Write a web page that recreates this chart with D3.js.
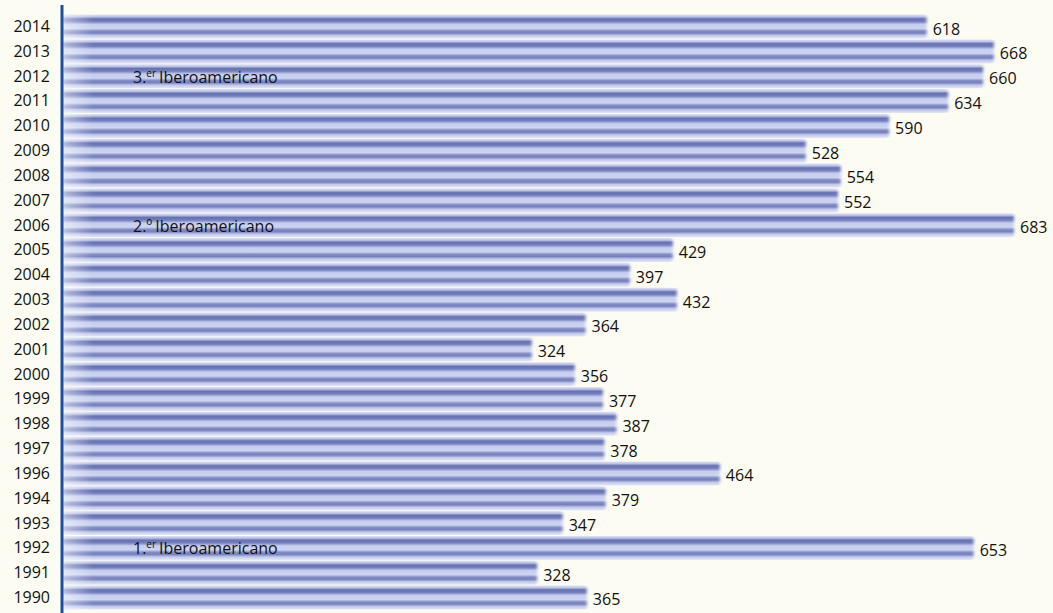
<!DOCTYPE html>
<html>
<head>
<meta charset="utf-8">
<script src="https://cdn.jsdelivr.net/npm/d3@7"></script>
<style>
  html, body { margin: 0; padding: 0; background: #fcfcf2; }
  svg { display: block; }
  text { font-family: "Open Sans", "Noto Sans", sans-serif; fill: #111; }
</style>
</head>
<body>
<svg id="chart" width="1053" height="613"></svg>
<script>
// Years shown top to bottom and the count for each year
const years = ["2014","2013","2012","2011","2010","2009","2008","2007","2006","2005","2004","2003","2002","2001","2000","1999","1998","1997","1996","1994","1993","1992","1991","1990"];
const counts = [618,668,660,634,590,528,554,552,683,429,397,432,364,324,356,377,387,378,464,379,347,653,328,365];
// Congress annotations written inside some bars
const noteYears = ["2012","2006","1992"];
const noteNums = ["3.", "2.", "1."];
const noteSups = ["er", "º", "er"];
const noteWord = "Iberoamericano";

const svg = d3.select("#chart");
const W = 1053, H = 613;
const x0 = 63;

const x = d3.scaleLinear().domain([-25, 683]).range([x0, 1014]);
const y = d3.scaleBand().domain(years).range([14.6, 610.4]).paddingInner(0).paddingOuter(0);

const defs = svg.append("defs");
// Tube-like vertical shading of each bar
const g = defs.append("linearGradient").attr("id", "tube").attr("x1", 0).attr("y1", 0).attr("x2", 0).attr("y2", 1);
[
  [0, "#dfe3f6"], [0.09, "#bcc3e7"], [0.18, "#6571b0"], [0.29, "#7480bd"],
  [0.41, "#c6cdef"], [0.58, "#cdd4f1"], [0.68, "#828cc4"], [0.77, "#7581bb"],
  [0.87, "#c0c7ea"], [1, "#e4e7f7"]
].forEach(([o, c]) => g.append("stop").attr("offset", o).attr("stop-color", c));

// Pale wash fading in from the axis
const fade = defs.append("linearGradient").attr("id", "fade")
  .attr("gradientUnits", "userSpaceOnUse").attr("x1", x0).attr("y1", 0).attr("x2", x0 + 30).attr("y2", 0);
fade.append("stop").attr("offset", 0).attr("stop-color", "#ffffff").attr("stop-opacity", 0.5);
fade.append("stop").attr("offset", 1).attr("stop-color", "#ffffff").attr("stop-opacity", 0);

defs.append("filter").attr("id", "soft").attr("x", "-2%").attr("y", "-5%").attr("width", "104%").attr("height", "110%")
  .append("feGaussianBlur").attr("stdDeviation", "1.8 0.6");

const barH = 24;

const bars = svg.append("g").attr("filter", "url(#soft)");
bars.selectAll("rect.bar").data(years).join("rect")
  .attr("class", "bar")
  .attr("x", x0)
  .attr("y", d => y(d))
  .attr("width", (d, i) => x(counts[i]) - x0)
  .attr("height", barH)
  .attr("rx", 2)
  .attr("fill", "url(#tube)");

bars.selectAll("rect.fade").data(years).join("rect")
  .attr("class", "fade")
  .attr("x", x0)
  .attr("y", d => y(d))
  .attr("width", 30)
  .attr("height", barH)
  .attr("fill", "url(#fade)");

// Year labels
svg.append("g").selectAll("text").data(years).join("text")
  .attr("x", 50)
  .attr("y", d => y(d) + y.bandwidth() / 2 + 5)
  .attr("text-anchor", "end")
  .attr("font-size", 16)
  .text(d => d);

// Value labels
svg.append("g").selectAll("text").data(years).join("text")
  .attr("x", (d, i) => x(counts[i]) + 6)
  .attr("y", d => y(d) + y.bandwidth() / 2 + 7.5)
  .attr("font-size", 16)
  .text((d, i) => counts[i]);

// Annotations; the ordinal "º" is already a raised glyph, so it keeps the base size
const notes = svg.append("g").selectAll("text").data(noteYears).join("text")
  .attr("x", 133)
  .attr("y", d => y(d) + y.bandwidth() / 2 + 6)
  .attr("font-size", 16);
notes.append("tspan").text((d, i) => noteNums[i]);
notes.append("tspan")
  .attr("dy", (d, i) => noteSups[i] === "º" ? 0 : -6)
  .attr("font-size", (d, i) => noteSups[i] === "º" ? 16 : 10)
  .text((d, i) => noteSups[i]);
notes.append("tspan")
  .attr("dy", (d, i) => noteSups[i] === "º" ? 0 : 6)
  .attr("dx", 3)
  .text(noteWord);

// Vertical axis line
svg.append("line")
  .attr("x1", 62).attr("x2", 62)
  .attr("y1", 5).attr("y2", H)
  .attr("stroke", "#1d4ea3")
  .attr("stroke-width", 3);
</script>
</body>
</html>
